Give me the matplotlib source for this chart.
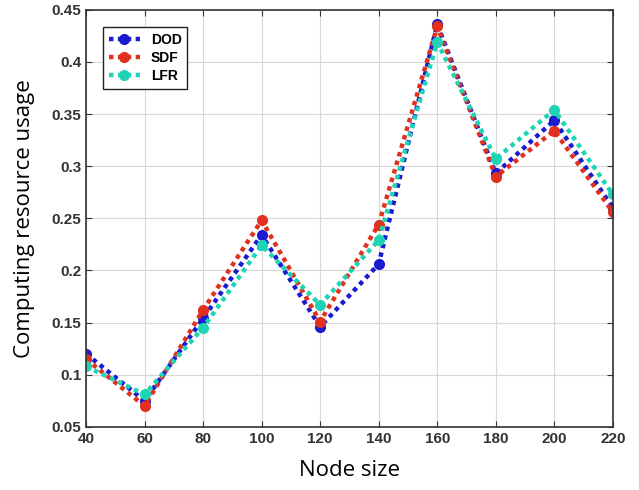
import matplotlib
matplotlib.use("Agg")
import matplotlib.pyplot as plt

node_size = [40, 60, 80, 100, 120, 140, 160, 180, 200, 220]
dod = [0.120, 0.075, 0.154, 0.234, 0.146, 0.206, 0.436, 0.293, 0.344, 0.260]
sdf = [0.115, 0.070, 0.162, 0.248, 0.151, 0.244, 0.434, 0.290, 0.334, 0.256]
lfr = [0.108, 0.081, 0.145, 0.224, 0.167, 0.229, 0.419, 0.307, 0.354, 0.273]
series_names = ["DOD", "SDF", "LFR"]
colors = ["#1a1ad0", "#e0301e", "#1ed4b4"]
xticks = [40, 60, 80, 100, 120, 140, 160, 180, 200, 220]
yticks = [0.05, 0.1, 0.15, 0.2, 0.25, 0.3, 0.35, 0.4, 0.45]
ytick_labels = ["0.05", "0.1", "0.15", "0.2", "0.25", "0.3", "0.35", "0.4", "0.45"]

fig = plt.figure(figsize=(6.39, 4.9), dpi=100)
ax = fig.add_axes([0.1346, 0.129, 0.8244, 0.851])

for vals, name, c in zip([dod, sdf, lfr], series_names, colors):
    ax.plot(node_size, vals, linestyle=(0, (1, 1)), linewidth=3.2, color=c,
            marker="o", markersize=7, label=name, dash_capstyle="butt")

ax.set_xlim(40, 220)
ax.set_ylim(0.05, 0.45)
ax.set_xticks(xticks)
ax.set_yticks(yticks)
ax.set_yticklabels(ytick_labels)
ax.grid(True, color="#d8d8d8", linewidth=0.8)
ax.set_axisbelow(True)
ax.tick_params(direction="in", top=True, right=True, length=4, width=0.8, colors="#333333")
for lab in ax.get_xticklabels() + ax.get_yticklabels():
    lab.set_fontfamily("Liberation Sans")
    lab.set_fontweight("bold")
    lab.set_fontsize(11)
    lab.set_color("#333333")
for s in ax.spines.values():
    s.set_color("#333333")
    s.set_linewidth(1.2)

ax.set_xlabel("Node size", fontsize=16, family="Open Sans", labelpad=10)
ax.set_ylabel("Computing resource usage", fontsize=16, family="Open Sans", labelpad=12)

leg = ax.legend(loc="upper left", bbox_to_anchor=(0.02, 0.975), fancybox=False,
                edgecolor="#222222", framealpha=1, prop={"family": "Liberation Sans", "weight": "bold", "size": 10},
                handlelength=2.2, borderpad=0.4, labelspacing=0.3, markerscale=1.0)
leg.get_frame().set_linewidth(1.0)

fig.savefig("out.png", dpi=100)
